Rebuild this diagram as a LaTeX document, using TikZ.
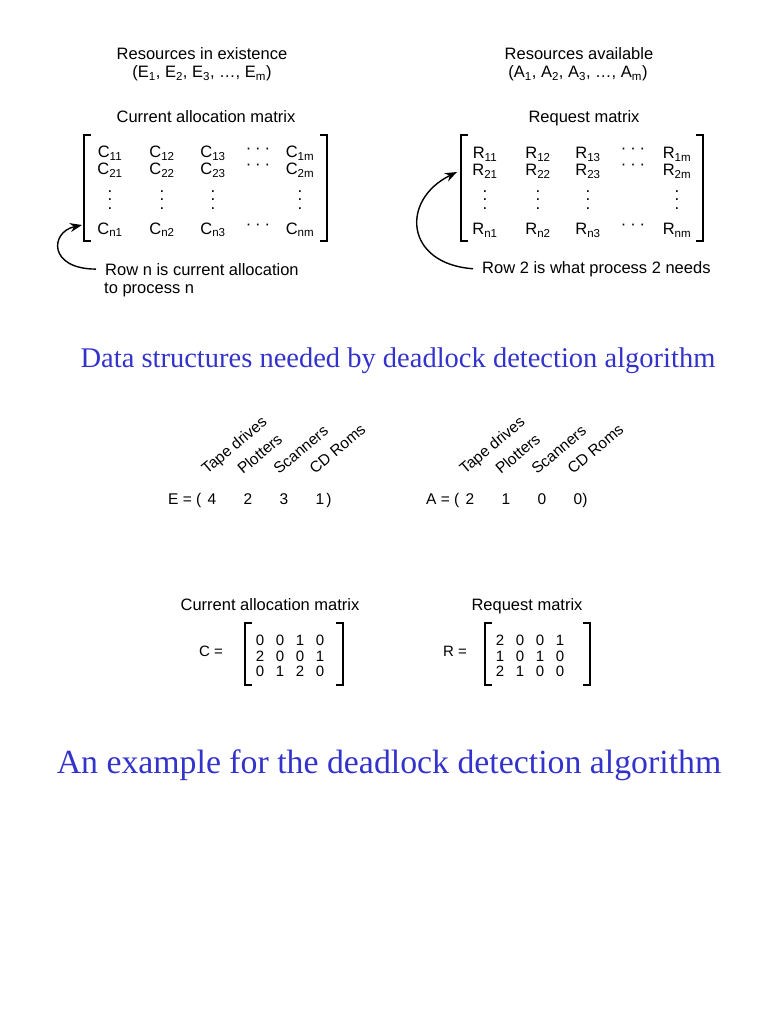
\documentclass[tikz,border=0pt]{standalone}
\usepackage{fontspec}
\setmainfont{Liberation Sans}
\newfontfamily\titlefont{Liberation Serif}
\usetikzlibrary{positioning,arrows.meta,calc}
\definecolor{titleblue}{RGB}{51,51,204}

% square brackets: left x, right x, top y, bottom y
\newcommand{\brackets}[4]{%
  \draw[brk] (#1+7,#3) -| (#1,#4) -- (#1+7,#4);
  \draw[brk] (#2-7,#3) -| (#2,#4) -- (#2-7,#4);}

\begin{document}
\begin{tikzpicture}[x=1pt,y=-1pt,
  txt/.style={font=\fontsize{16.5}{18}\selectfont,inner sep=0pt,anchor=base},
  dots/.style={font=\fontsize{16.5}{18}\selectfont,inner sep=0pt},
  vdot/.style={font=\fontsize{17}{8.5}\selectfont,inner sep=0pt,align=center},
  mid/.style={font=\fontsize{15.5}{17}\selectfont,inner sep=0pt,anchor=base},
  num/.style={font=\fontsize{15}{17}\selectfont,inner sep=0pt,anchor=base},
  side/.style={mid,anchor=base west,rotate=40},
  title/.style={font=\titlefont\fontsize{28.5}{32}\selectfont,text=titleblue,
  inner sep=0pt,anchor=base},
  arr/.style={-{Stealth[length=12pt,width=9pt]},line width=1.4pt},
  brk/.style={line width=1.2pt}
]
\useasboundingbox (0,0) rectangle (768,1024);

% general model, left half
\node[txt] (exist) at (202,60) {Resources in existence};
\node[txt] (evec) at (202,78) {(E\textsubscript{1}, E\textsubscript{2}, E\textsubscript{3}, \dots, E\textsubscript{m})};
\node[txt] (ctitle) at (206,123) {Current allocation matrix};
\brackets{84}{327}{135}{241}
\foreach \c/\x in {1/110,2/162,3/213,m/300}{
  \node[txt] (c1\c) at (\x,158) {C\textsubscript{1\c}};
  \node[txt] (c2\c) at (\x,175) {C\textsubscript{2\c}};
  \node[vdot] (cv\c) at (\x,200) {.\\.\\.};
  \node[txt] (cn\c) at (\x,234) {C\textsubscript{n\c}};
}
\foreach \r/\y in {1/151,2/167,n/227}
  \node[dots] (ch\r) at (258,\y) {·\hspace{4pt}·\hspace{4pt}·};
\node[txt,anchor=base west] (rowc) at (105,275) {Row n is current allocation};
\node[txt,anchor=base west] (rowc2) at (104,293) {to process n};
\coordinate (ctip) at (82,225);
\draw[arr] ([xshift=-9pt]rowc.west) .. controls (48,269) and (50,232) .. (ctip);

% general model, right half
\node[txt] (avail) at (579,60) {Resources available};
\node[txt] (avec) at (578,78) {(A\textsubscript{1}, A\textsubscript{2}, A\textsubscript{3}, \dots, A\textsubscript{m})};
\node[txt] (rtitle) at (584,123) {Request matrix};
\brackets{461}{703}{135}{241}
\foreach \c/\x in {1/485,2/538,3/588,m/677}{
  \node[txt] (r1\c) at (\x,159) {R\textsubscript{1\c}};
  \node[txt] (r2\c) at (\x,176) {R\textsubscript{2\c}};
  \node[vdot] (rv\c) at (\x,200) {.\\.\\.};
  \node[txt] (rn\c) at (\x,235) {R\textsubscript{n\c}};
}
\foreach \r/\y in {1/151,2/167,n/227}
  \node[dots] (rh\r) at (633,\y) {·\hspace{4pt}·\hspace{4pt}·};
\node[txt,anchor=base west] (rowr) at (482,273) {Row 2 is what process 2 needs};
\coordinate (rtip) at (457,172);
\draw[arr] ([xshift=-9pt]rowr.west) .. controls (405,264) and (400,200) .. (rtip);

\node[title] (head1) at (398,367) {Data structures needed by deadlock detection algorithm};

% example vectors
\node[mid,anchor=base west] (eeq) at (168,504) {E = (};
\node[mid,anchor=base west] (aeq) at (426,504) {A = (};
\foreach \i/\x/\e/\a/\lab in {1/212/4/2/Tape drives,2/248/2/1/Plotters,
  3/284/3/0/Scanners,4/320/1/0/CD Roms}{
  \node[mid] (e\i) at (\x,504) {\e};
  \node[mid] (a\i) at (\x+258,504) {\a};
  \node[side] (le\i) at (\x-5,475) {\lab};
  \node[side] (la\i) at (\x+253,475) {\lab};
}
\node[mid] (eclose) at (329,504) {)};
\node[mid] (aclose) at (585,504) {)};

% example matrices
\node[txt] (cex) at (270,610) {Current allocation matrix};
\node[txt] (rex) at (527,610) {Request matrix};
\node[num] (ceq) at (211,656) {C =};
\node[num] (req) at (455,656) {R =};
\brackets{245}{343}{623}{685}
\brackets{485}{590}{623}{685}
\foreach \r/\y/\cc/\rr in {1/645/{0,0,1,0}/{2,0,0,1},2/661/{2,0,0,1}/{1,0,1,0},
  3/676/{0,1,2,0}/{2,1,0,0}}{
  \foreach \v [count=\j] in \cc
    \node[num] (c\r\j) at (240+20*\j,\y) {\v};
  \foreach \v [count=\j] in \rr
    \node[num] (r\r\j) at (480+20*\j,\y) {\v};
}

\node[title,font=\titlefont\fontsize{33.8}{38}\selectfont] (head2) at (389,773) {An example for the deadlock detection algorithm};
\end{tikzpicture}
\end{document}
